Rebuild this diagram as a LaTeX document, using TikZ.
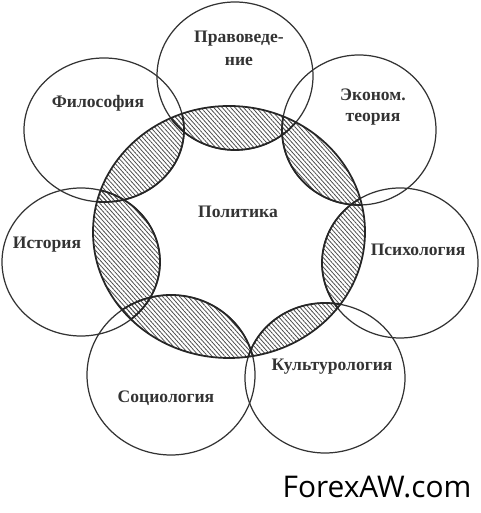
\documentclass[tikz,border=0pt]{standalone}
\usepackage{fontspec}
\setmainfont{Liberation Serif}
\newfontfamily\wmfont{Open Sans}
\usetikzlibrary{patterns.meta}

\tikzset{
  field/.style={draw=black!80, line width=0.7pt},
  rim/.style={draw=black!85, line width=1pt},
  lens/.style={pattern={Lines[angle=-48,distance=1.8pt,line width=0.45pt]}, pattern color=black!70},
  fieldname/.style={font=\bfseries\fontsize{10}{11.5}\selectfont, text=black!80, align=center}
}

\begin{document}
\begin{tikzpicture}[x=0.02cm,y=0.02cm]
\useasboundingbox (0,0) rectangle (480,513);
% centres of the fields
\coordinate (Pol) at (229,281);
\coordinate (Prav) at (235,437);
\coordinate (Fil) at (104,383);
\coordinate (Ekon) at (359,383);
\coordinate (Ist) at (81,251);
\coordinate (Psy) at (400,250);
\coordinate (Soc) at (171,138);
\coordinate (Kul) at (325,135);

% hatched overlaps with politics
\begin{scope}
\clip (Pol) ellipse[x radius=136, y radius=126];
\fill[lens] (Prav) ellipse[x radius=78, y radius=74];
\fill[lens] (Fil) ellipse[x radius=80, y radius=72];
\fill[lens] (Ekon) ellipse[x radius=77, y radius=75];
\fill[lens] (Ist) ellipse[x radius=79, y radius=74];
\fill[lens] (Psy) ellipse[x radius=78, y radius=75];
\fill[lens] (Soc) ellipse[x radius=84, y radius=80];
\fill[lens] (Kul) ellipse[x radius=80, y radius=75];
\end{scope}

% outer fields
\draw[field] (Prav) ellipse[x radius=78, y radius=74];
\draw[field] (Fil) ellipse[x radius=80, y radius=72];
\draw[field] (Ekon) ellipse[x radius=77, y radius=75];
\draw[field] (Ist) ellipse[x radius=79, y radius=74];
\draw[field] (Psy) ellipse[x radius=78, y radius=75];
\draw[field] (Soc) ellipse[x radius=84, y radius=80];
\draw[field] (Kul) ellipse[x radius=80, y radius=75];

% rims of the overlaps
\draw[rim] (Pol) ellipse[x radius=136, y radius=126];
\begin{scope}
\clip (Pol) ellipse[x radius=136, y radius=126];
\draw[rim] (Prav) ellipse[x radius=78, y radius=74];
\draw[rim] (Fil) ellipse[x radius=80, y radius=72];
\draw[rim] (Ekon) ellipse[x radius=77, y radius=75];
\draw[rim] (Ist) ellipse[x radius=79, y radius=74];
\draw[rim] (Psy) ellipse[x radius=78, y radius=75];
\draw[rim] (Soc) ellipse[x radius=84, y radius=80];
\draw[rim] (Kul) ellipse[x radius=80, y radius=75];
\end{scope}

% names
\node[fieldname] at (238,301) (politika) {Политика};
\node[fieldname] at (239,465) (pravo) {Правоведе-\\[1.5pt]ние};
\node[fieldname] at (98,410) (filosofiya) {Философия};
\node[fieldname] at (373,406) (ekonom) {Эконом.\\теория};
\node[fieldname] at (47,268) (istoriya) {История};
\node[fieldname] at (418,263) (psihologiya) {Психология};
\node[fieldname] at (166,115) (sociologiya) {Социология};
\node[fieldname] at (332,146) (kultura) {Культурология};
\node[font=\wmfont\fontsize{17}{20}\selectfont] at (377,26) (mark) {ForexAW.com};
\end{tikzpicture}
\end{document}
